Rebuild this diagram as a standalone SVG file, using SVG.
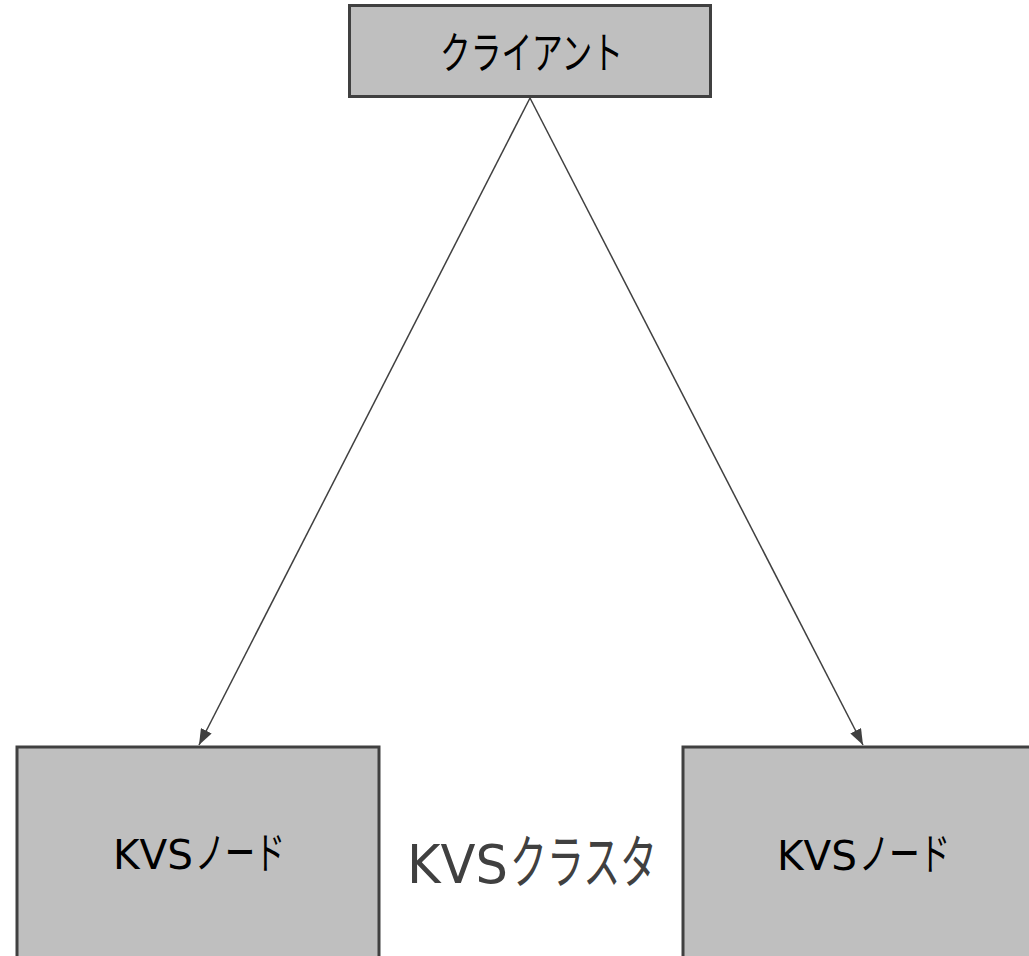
<svg xmlns="http://www.w3.org/2000/svg" width="1029" height="956" viewBox="0 0 1029 956">
<style>
.node{fill:#bfbfbf;stroke:#404040;stroke-width:3}
.lbl{font-family:"DejaVu Sans","Noto Sans CJK JP",sans-serif;font-size:40px;fill:#000}
.kn{font-size:44px}
.cl{font-family:"DejaVu Sans","Noto Sans CJK JP",sans-serif;font-size:54px;fill:#404040}
.ckn{font-size:58px}
.edge{stroke:#404040;stroke-width:1.5;fill:none;marker-end:url(#ah)}
</style>
<defs>
<marker id="ah" markerUnits="userSpaceOnUse" viewBox="0 0 16 12" markerWidth="16" markerHeight="12" refX="16" refY="6" orient="auto">
<path d="M0,0 L16,6 L0,12 z" fill="#404040"/>
</marker>
</defs>
<rect width="1029" height="956" fill="#ffffff"/>
<g id="edges">
<line class="edge" x1="530" y1="98" x2="199" y2="745"/>
<line class="edge" x1="530" y1="98" x2="863" y2="745"/>
</g>
<g id="client">
<rect class="node" x="349.5" y="5.5" width="361" height="91"/>
<text class="lbl kn" x="440" y="69" textLength="183" lengthAdjust="spacingAndGlyphs">クライアント</text>
</g>
<g id="kvs-node-1">
<rect class="node" x="17" y="747" width="362" height="230"/>
<text class="lbl" y="869"><tspan x="113" textLength="80" lengthAdjust="spacingAndGlyphs">KVS</tspan><tspan class="kn" x="195" textLength="90" lengthAdjust="spacingAndGlyphs">ノード</tspan></text>
</g>
<g id="kvs-node-2">
<rect class="node" x="683" y="747" width="362" height="230"/>
<text class="lbl" y="870"><tspan x="777" textLength="80" lengthAdjust="spacingAndGlyphs">KVS</tspan><tspan class="kn" x="859" textLength="91" lengthAdjust="spacingAndGlyphs">ノード</tspan></text>
</g>
<g id="cluster-label">
<text class="cl" y="883"><tspan x="407" textLength="101" lengthAdjust="spacingAndGlyphs">KVS</tspan><tspan class="ckn" x="510" textLength="147" lengthAdjust="spacingAndGlyphs">クラスタ</tspan></text>
</g>
</svg>
